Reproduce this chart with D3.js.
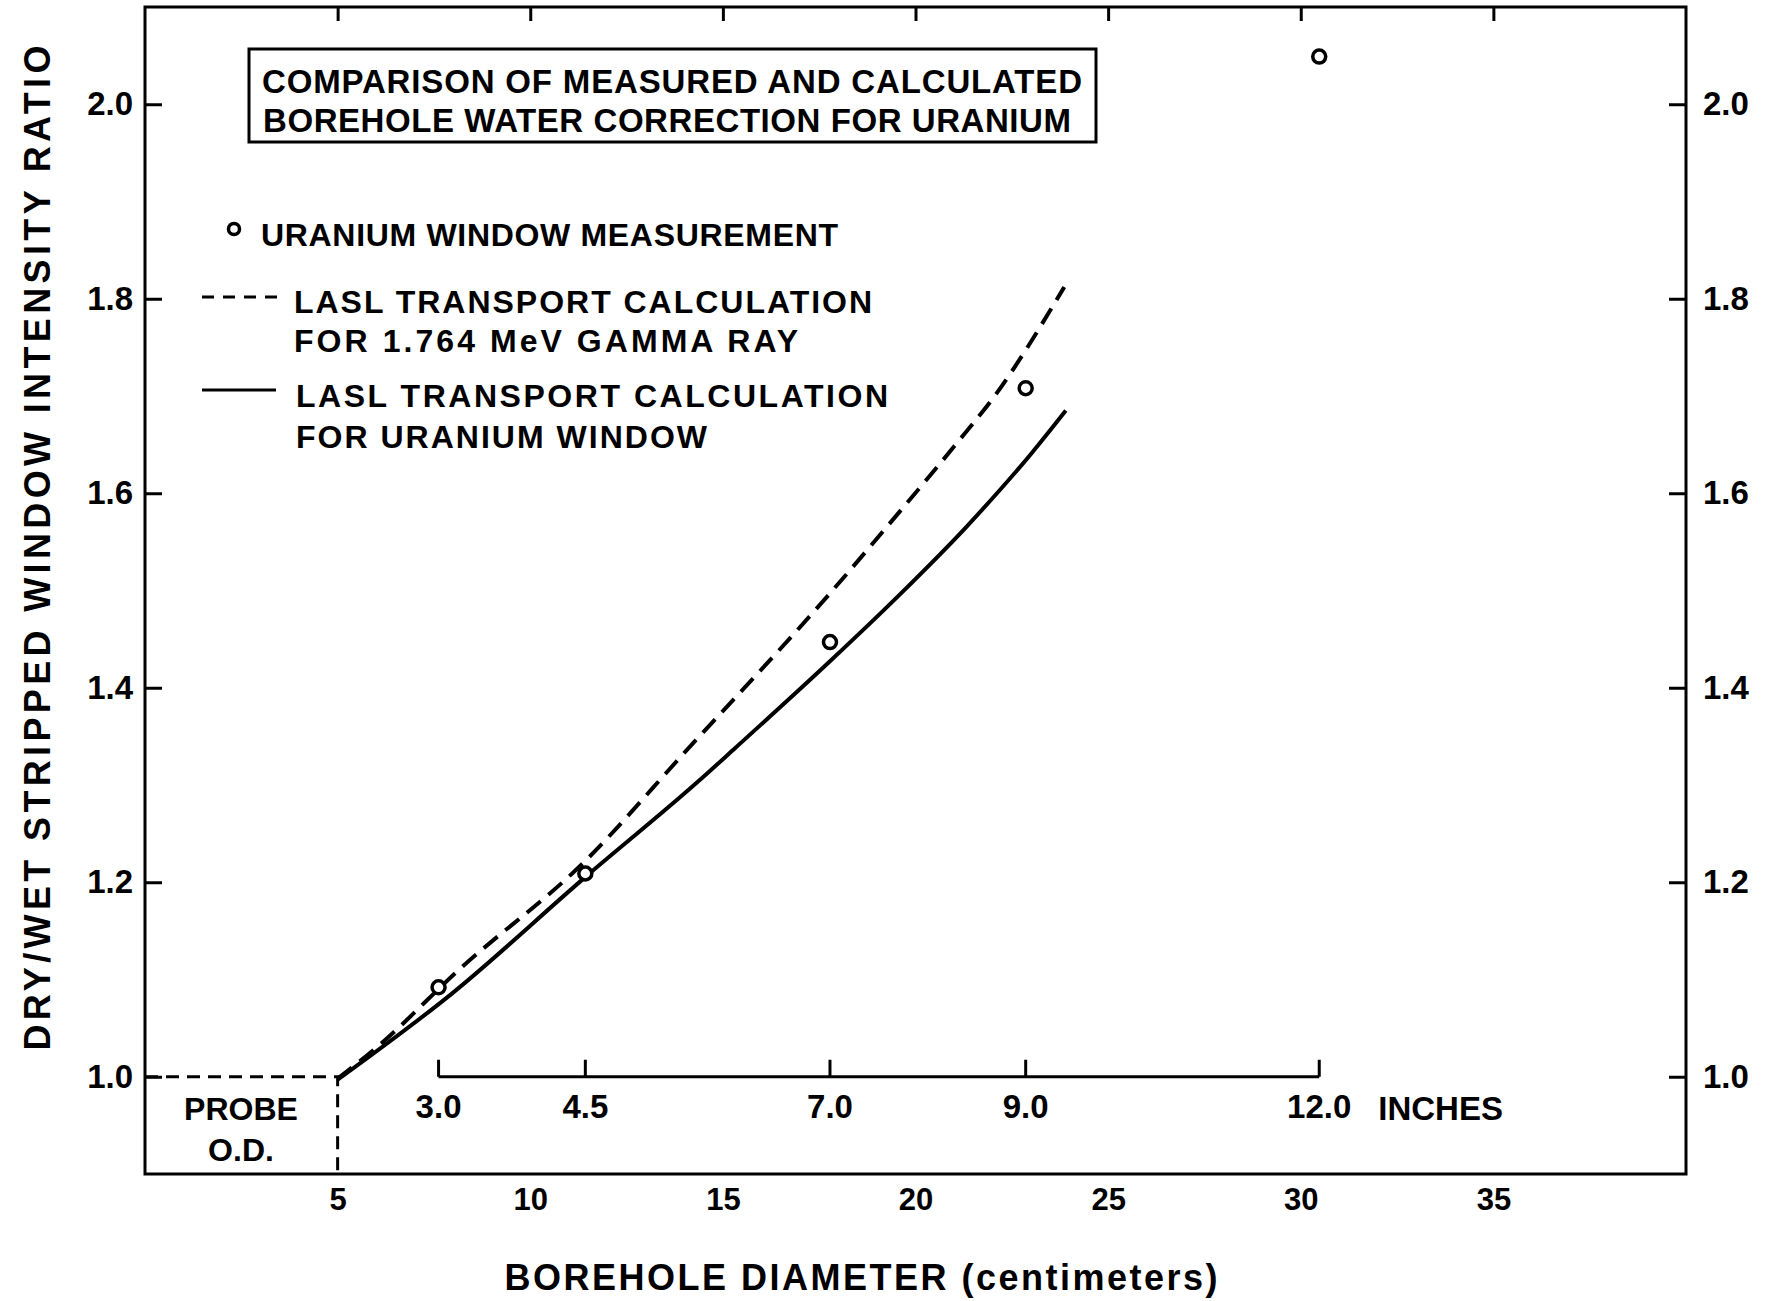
<!DOCTYPE html>
<html>
<head>
<meta charset="utf-8">
<script src="https://cdn.jsdelivr.net/npm/d3@7"></script>
<style>
  body { margin: 0; background: #fff; }
  svg { display: block; }
  text { font-family: "Liberation Sans", Arial, sans-serif; fill: #000; }
</style>
</head>
<body>
<svg></svg>
<script>
const W = 1771, H = 1301;

// axis ticks
const xTicks = [5, 10, 15, 20, 25, 30, 35];
const yTicks = [1.0, 1.2, 1.4, 1.6, 1.8, 2.0];
const inchTicks = [3.0, 4.5, 7.0, 9.0, 12.0];

// uranium window measurements (borehole diameter in inches)
const measInches = [3.0, 4.5, 7.0, 9.0, 12.0];
const measRatio = [1.092, 1.209, 1.447, 1.708, 2.049];

// LASL transport calculation, 1.764 MeV gamma ray (dashed)
const gammaCm = [5.0, 6.04, 8.12, 11.43, 14.02, 17.8, 19.48, 21.0, 22.09, 23.86];
const gammaRatio = [0.998, 1.031, 1.109, 1.222, 1.334, 1.498, 1.576, 1.648, 1.702, 1.812];

// LASL transport calculation, uranium window (solid)
const uranCm = [5.0, 7.95, 11.42, 14.37, 15.32, 17.8, 19.57, 21.31, 23.03, 23.9];
const uranRatio = [0.997, 1.085, 1.205, 1.304, 1.338, 1.428, 1.495, 1.565, 1.642, 1.685];

// probe outer diameter
const probeCm = 5;
const baseRatio = 1.0;
const CM_PER_INCH = 2.54;

const margin = { left: 145, right: 1686, top: 7, bottom: 1174 };

const svg = d3.select("svg").attr("width", W).attr("height", H);
svg.append("rect").attr("width", W).attr("height", H).attr("fill", "#fff");

const x = d3.scaleLinear().domain([0, 40]).range([margin.left, margin.right]);
const xIn = d3.scaleLinear().domain([0, 40 / CM_PER_INCH]).range([margin.left, margin.right]);
const y = d3.scaleLinear().domain([0.9, 2.1]).range([margin.bottom, margin.top]);

// frame
svg.append("rect")
  .attr("x", x(0)).attr("y", y(2.1))
  .attr("width", x(40) - x(0)).attr("height", y(0.9) - y(2.1))
  .attr("fill", "none").attr("stroke", "#000").attr("stroke-width", 3);

function styleAxis(size) {
  return g => {
    g.select(".domain").remove();
    g.selectAll(".tick line").attr("stroke-width", 3);
    g.selectAll("text").attr("font-size", size).attr("font-weight", "bold");
  };
}

svg.append("g")
  .attr("transform", `translate(${x(0)},0)`)
  .call(d3.axisLeft(y).tickValues(yTicks).tickSizeInner(-17).tickSizeOuter(0)
    .tickPadding(12).tickFormat(d3.format(".1f")))
  .call(styleAxis(33));

svg.append("g")
  .attr("transform", `translate(${x(40)},0)`)
  .call(d3.axisRight(y).tickValues(yTicks).tickSizeInner(-17).tickSizeOuter(0)
    .tickPadding(17).tickFormat(d3.format(".1f")))
  .call(styleAxis(33));

svg.append("g")
  .attr("transform", `translate(0,${y(2.1)})`)
  .call(d3.axisTop(x).tickValues(xTicks).tickSizeInner(-14).tickSizeOuter(0).tickFormat(""))
  .call(styleAxis(10));

svg.append("g")
  .attr("transform", `translate(0,${y(0.9)})`)
  .call(d3.axisBottom(x).tickValues(xTicks).tickSize(0).tickPadding(14).tickFormat(d3.format("d")))
  .call(styleAxis(31));

// axis titles
svg.append("text")
  .attr("transform", "translate(50,548) rotate(-90)")
  .attr("text-anchor", "middle")
  .attr("font-size", 36).attr("font-weight", "bold")
  .attr("textLength", 1005).attr("lengthAdjust", "spacing")
  .text("DRY/WET STRIPPED WINDOW INTENSITY RATIO");

svg.append("text")
  .attr("x", 861).attr("y", 1290)
  .attr("text-anchor", "middle")
  .attr("font-size", 36).attr("font-weight", "bold")
  .attr("textLength", 713).attr("lengthAdjust", "spacing")
  .text("BOREHOLE DIAMETER (centimeters)");

// probe O.D. dashed guides
svg.append("path")
  .attr("d", `M${x(0)},${y(baseRatio)}H${x(probeCm)}V${y(0.9)}`)
  .attr("fill", "none").attr("stroke", "#000").attr("stroke-width", 3)
  .attr("stroke-dasharray", "13,8");

svg.append("text").attr("x", 241).attr("y", 1120).attr("text-anchor", "middle")
  .attr("font-size", 32).attr("font-weight", "bold").text("PROBE");
svg.append("text").attr("x", 241).attr("y", 1161).attr("text-anchor", "middle")
  .attr("font-size", 32).attr("font-weight", "bold").text("O.D.");

// inch scale
const inchG = svg.append("g");
inchG.append("line")
  .attr("x1", xIn(inchTicks[0])).attr("x2", xIn(inchTicks[inchTicks.length - 1]))
  .attr("y1", y(baseRatio)).attr("y2", y(baseRatio))
  .attr("stroke", "#000").attr("stroke-width", 3);
inchG.selectAll(".itick").data(inchTicks).enter().append("line")
  .attr("x1", d => xIn(d)).attr("x2", d => xIn(d))
  .attr("y1", y(baseRatio)).attr("y2", y(baseRatio) - 17)
  .attr("stroke", "#000").attr("stroke-width", 3);
inchG.selectAll(".ilabel").data(inchTicks).enter().append("text")
  .attr("x", d => xIn(d)).attr("y", 1118)
  .attr("text-anchor", "middle")
  .attr("font-size", 33).attr("font-weight", "bold")
  .text(d => d.toFixed(1));
inchG.append("text")
  .attr("x", xIn(12) + 59).attr("y", 1120)
  .attr("font-size", 33).attr("font-weight", "bold")
  .text("INCHES");

// curves
const line = d3.line().x(d => x(d[0])).y(d => y(d[1])).curve(d3.curveMonotoneX);

svg.append("path")
  .datum(gammaCm.map((c, i) => [c, gammaRatio[i]]))
  .attr("d", line)
  .attr("fill", "none").attr("stroke", "#000").attr("stroke-width", 4)
  .attr("stroke-dasharray", "18,10");

svg.append("path")
  .datum(uranCm.map((c, i) => [c, uranRatio[i]]))
  .attr("d", line)
  .attr("fill", "none").attr("stroke", "#000").attr("stroke-width", 4);

// measured points
svg.selectAll(".meas")
  .data(measInches.map((d, i) => ({ inch: d, ratio: measRatio[i] })))
  .enter().append("circle")
  .attr("class", "meas")
  .attr("cx", d => xIn(d.inch))
  .attr("cy", d => y(d.ratio))
  .attr("r", 6.5)
  .attr("fill", "#fff").attr("stroke", "#000").attr("stroke-width", 3.5);

// title box
svg.append("rect")
  .attr("x", 249).attr("y", 49).attr("width", 847).attr("height", 93)
  .attr("fill", "none").attr("stroke", "#000").attr("stroke-width", 3);
svg.append("text").attr("x", 262).attr("y", 93)
  .attr("font-size", 33).attr("font-weight", "bold")
  .attr("textLength", 820).attr("lengthAdjust", "spacing")
  .text("COMPARISON OF MEASURED AND CALCULATED");
svg.append("text").attr("x", 263).attr("y", 132)
  .attr("font-size", 33).attr("font-weight", "bold")
  .attr("textLength", 808).attr("lengthAdjust", "spacing")
  .text("BOREHOLE WATER CORRECTION FOR URANIUM");

// legend
const legend = svg.append("g");
legend.append("circle").attr("cx", 234).attr("cy", 229).attr("r", 5.5)
  .attr("fill", "#fff").attr("stroke", "#000").attr("stroke-width", 3.5);
legend.append("text").attr("x", 261).attr("y", 246)
  .attr("font-size", 32).attr("font-weight", "bold")
  .attr("textLength", 577).attr("lengthAdjust", "spacing")
  .text("URANIUM WINDOW MEASUREMENT");

legend.append("line").attr("x1", 202).attr("x2", 277).attr("y1", 297).attr("y2", 297)
  .attr("stroke", "#000").attr("stroke-width", 3).attr("stroke-dasharray", "12,9");
legend.append("text").attr("x", 294).attr("y", 313)
  .attr("font-size", 32).attr("font-weight", "bold")
  .attr("textLength", 578).attr("lengthAdjust", "spacing")
  .text("LASL TRANSPORT CALCULATION");
legend.append("text").attr("x", 294).attr("y", 352)
  .attr("font-size", 32).attr("font-weight", "bold")
  .attr("textLength", 504).attr("lengthAdjust", "spacing")
  .text("FOR 1.764 MeV GAMMA RAY");

legend.append("line").attr("x1", 202).attr("x2", 276).attr("y1", 390).attr("y2", 390)
  .attr("stroke", "#000").attr("stroke-width", 3);
legend.append("text").attr("x", 296).attr("y", 407)
  .attr("font-size", 32).attr("font-weight", "bold")
  .attr("textLength", 592).attr("lengthAdjust", "spacing")
  .text("LASL TRANSPORT CALCULATION");
legend.append("text").attr("x", 296).attr("y", 448)
  .attr("font-size", 32).attr("font-weight", "bold")
  .attr("textLength", 411).attr("lengthAdjust", "spacing")
  .text("FOR URANIUM WINDOW");
</script>
</body>
</html>
